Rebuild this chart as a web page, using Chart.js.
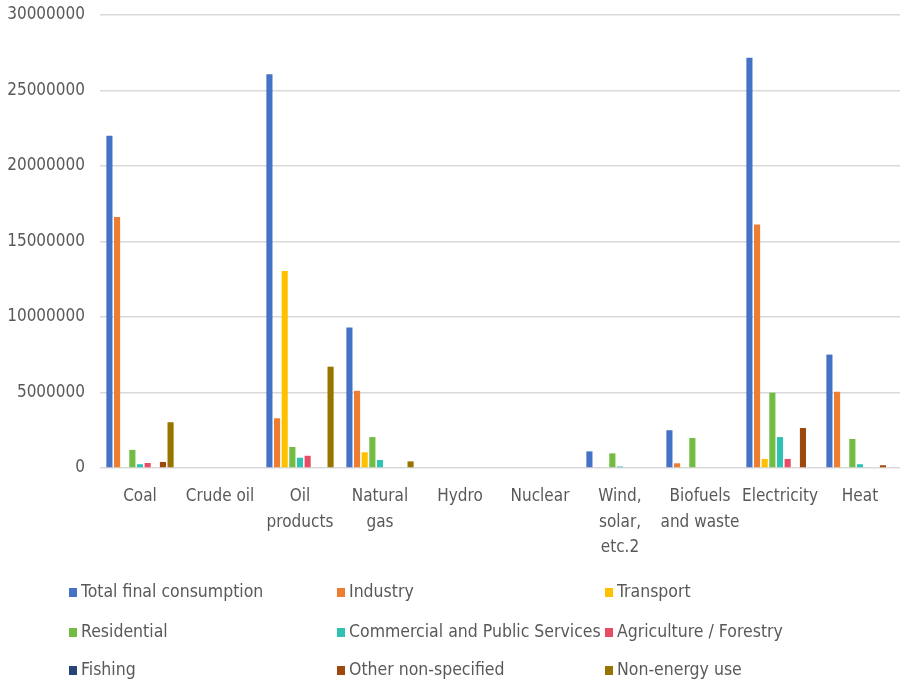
<!DOCTYPE html>
<html>
<head>
<meta charset="utf-8">
<script src="https://cdn.jsdelivr.net/npm/chart.js@4/dist/chart.umd.min.js"></script>
<style>
  html, body { margin: 0; padding: 0; background: #fff; }
  #wrap { position: relative; width: 904px; height: 682px; }
  #chart { position: absolute; left: 0; top: 0; }
  #legend { position: absolute; left: 0; top: 0; width: 904px; height: 682px; pointer-events: none;
            font-family: "DejaVu Sans Condensed", "Liberation Sans Narrow", sans-serif; font-size: 17.5px; color: #595959; }
  .item { position: absolute; white-space: nowrap; line-height: 20px; }
  .sw { display: inline-block; width: 8px; height: 9px; margin-right: 4px; vertical-align: 0px; }
</style>
</head>
<body>
<div id="wrap">
  <canvas id="chart" width="904" height="682"></canvas>
  <div id="legend"></div>
</div>
<script>
// Final consumption by energy product, split by end-use sector
const categories = [
  "Coal", ["Crude oil"], ["Oil", "products"], ["Natural", "gas"], "Hydro", "Nuclear",
  ["Wind,", "solar,", "etc.2"], ["Biofuels", "and waste"], "Electricity", "Heat"
];

const seriesNames = [
  "Total final consumption", "Industry", "Transport",
  "Residential", "Commercial and Public Services", "Agriculture / Forestry",
  "Fishing", "Other non-specified", "Non-energy use"
];

const seriesColors = [
  "#4472C4", "#ED7D31", "#FFC000",
  "#72BC44", "#2FC1B2", "#E84C64",
  "#264478", "#9E480E", "#997300"
];

//                          Coal      Crude  Oil prod.  Nat. gas  Hydro Nucl. Wind etc. Biofuels  Electricity  Heat
const totalFinal         = [22000000, 0, 26080000,  9300000, 0, 0, 1100000, 2500000, 27170000, 7510000];
const industry           = [16620000, 0,  3290000,  5110000, 0, 0,       0,  310000, 16120000, 5050000];
const transport          = [       0, 0, 13050000,  1040000, 0, 0,       0,       0,   600000,       0];
const residential        = [ 1200000, 0,  1390000,  2050000, 0, 0,  970000, 1990000,  4990000, 1920000];
const commercialPublic   = [  250000, 0,   680000,   530000, 0, 0,  100000,       0,  2050000,  250000];
const agricultureForest  = [  330000, 0,   810000,        0, 0, 0,       0,       0,   600000,       0];
const fishing            = [       0, 0,        0,        0, 0, 0,       0,       0,        0,       0];
const otherNonSpecified  = [  400000, 0,        0,        0, 0, 0,       0,       0,  2650000,  180000];
const nonEnergyUse       = [ 3030000, 0,  6710000,   440000, 0, 0,       0,       0,        0,       0];

const seriesValues = [
  totalFinal, industry, transport,
  residential, commercialPublic, agricultureForest,
  fishing, otherNonSpecified, nonEnergyUse
];

const yTicks = [0, 5000000, 10000000, 15000000, 20000000, 25000000, 30000000];

const FONT = "'DejaVu Sans Condensed', 'Liberation Sans Narrow', sans-serif";
const TEXT = "#595959";

new Chart(document.getElementById("chart"), {
  type: "bar",
  data: {
    labels: categories,
    datasets: seriesNames.map((name, i) => ({
      label: name,
      data: seriesValues[i],
      backgroundColor: seriesColors[i],
      borderWidth: 0,
      categoryPercentage: 0.86,
      barPercentage: 0.8
    }))
  },
  options: {
    responsive: false,
    animation: false,
    layout: { padding: { top: 15, right: 4, bottom: 124, left: 0 } },
    plugins: { legend: { display: false }, tooltip: { enabled: false } },
    scales: {
      x: {
        grid: { display: false },
        border: { display: false },
        ticks: {
          color: TEXT, font: { family: FONT, size: 17, lineHeight: 1.5 }, padding: 8,
          maxRotation: 0, autoSkip: false
        },
        afterFit: s => { s.height = 90; }
      },
      y: {
        min: 0, max: 30000000,
        afterBuildTicks: s => { s.ticks = yTicks.map(v => ({ value: v })); },
        grid: { color: "#D9D9D9", lineWidth: 1.5, drawTicks: false },
        border: { display: false },
        ticks: {
          color: TEXT, font: { family: FONT, size: 17 }, padding: 15,
          callback: v => String(v)
        },
        afterFit: s => { s.width = 100; s.paddingTop = 0; s.paddingBottom = 0; }
      }
    }
  }
});

// Legend laid out in three columns below the plot
const legendCols = [69, 337, 605];
const legendRows = [591, 631, 669];
const legend = document.getElementById("legend");
seriesNames.forEach((name, i) => {
  const el = document.createElement("div");
  el.className = "item";
  el.style.left = legendCols[i % 3] + "px";
  el.style.top = (legendRows[Math.floor(i / 3)] - 10) + "px";
  el.innerHTML = '<span class="sw" style="background:' + seriesColors[i] + '"></span>' + name;
  legend.appendChild(el);
});
</script>
</body>
</html>
